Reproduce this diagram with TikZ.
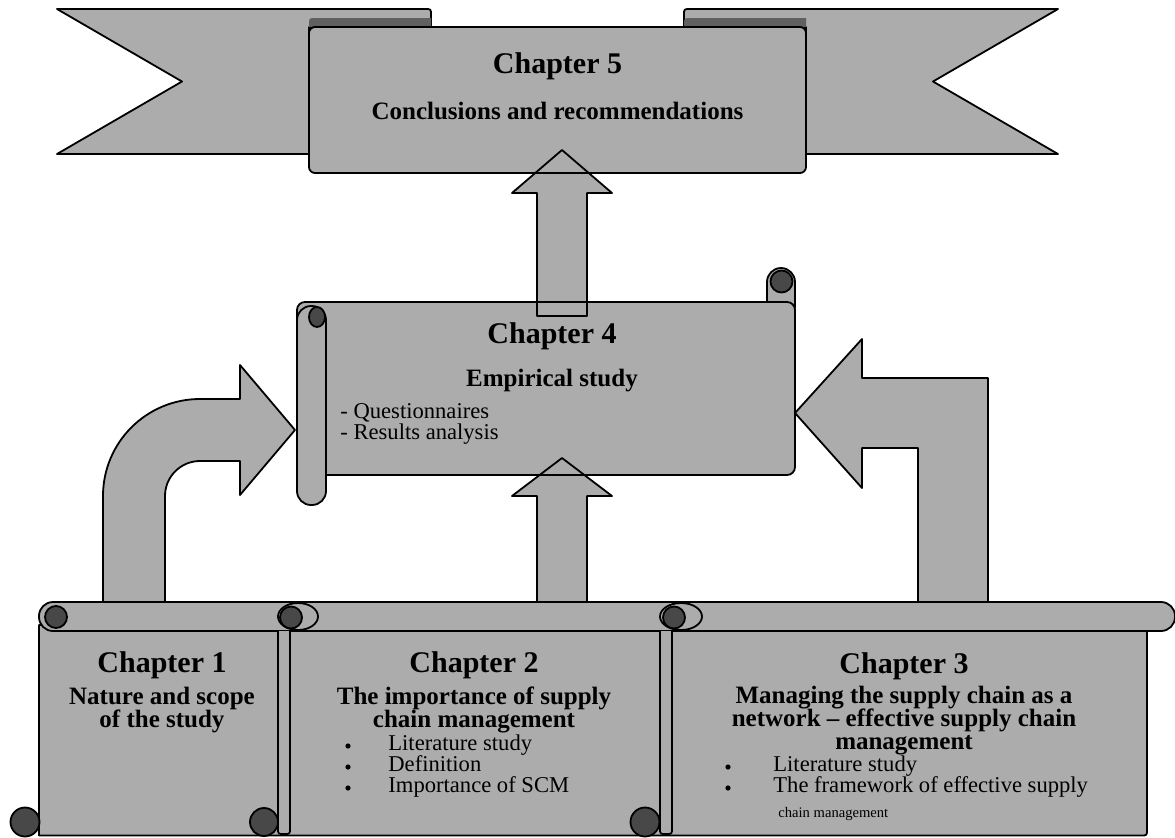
\documentclass[tikz,border=0pt]{standalone}
\usepackage{fontspec}
\setmainfont{Liberation Serif}
\definecolor{paper}{RGB}{172,172,172}
\definecolor{rolldark}{RGB}{72,72,72}
\definecolor{folddark}{RGB}{96,96,96}
\begin{document}
\begin{tikzpicture}[x=0.5pt,y=-0.5pt,
  outline/.style={draw=black,line width=0.9pt,line join=round},
  sheet/.style={outline,fill=paper},
  curl/.style={outline,fill=rolldark},
  chaptitle/.style={anchor=base,inner sep=0pt,font=\fontsize{15}{15}\selectfont\bfseries},
  subtitle/.style={anchor=base,inner sep=0pt,font=\fontsize{12.5}{12.5}\selectfont\bfseries},
  listitem/.style={anchor=base west,inner sep=0pt,font=\fontsize{11.3}{11.3}\selectfont},
  smallitem/.style={anchor=base west,inner sep=0pt,font=\fontsize{7.3}{7.3}\selectfont},
  bulletdot/.style={fill=black,circle,inner sep=0pt,minimum size=2.6pt}
]
\useasboundingbox (0,0) rectangle (1175,837);

% ---------------- Chapter 5: ribbon banner ----------------
% left tail with its fold
\draw[sheet] (57,9) -- (425,9) .. controls (431,9) .. (431,15) -- (431,27)
  -- (309,27) -- (309,154) -- (57,154) -- (182,81.5) -- cycle;
\fill[folddark] (316,18) -- (431,18) -- (431,27) -- (309,27) -- (309,25) .. controls (309,18) .. (316,18);
% right tail with its fold
\draw[sheet] (1058,9) -- (690,9) .. controls (684,9) .. (684,15) -- (684,27)
  -- (806,27) -- (806,154) -- (1058,154) -- (933,81.5) -- cycle;
\fill[folddark] (691,18) -- (806,18) -- (806,27) -- (684,27) -- (684,25) .. controls (684,18) .. (691,18);
% centre panel
\draw[sheet,rounded corners=3pt] (309,27) rectangle (806,173);

% ---------------- Chapter 4: scroll ----------------
\draw[sheet,rounded corners=7pt] (767,268) rectangle (795,320);
\draw[curl] (781.5,281.5) circle[radius=11];
\draw[sheet,rounded corners=4pt] (297,302) rectangle (795,475);
\draw[sheet,rounded corners=7pt] (297,306) rectangle (326,505);
\draw[curl] (317,317) ellipse[x radius=8,y radius=10];

% ---------------- Chapters 1--3: joined scroll ----------------
\draw[sheet] (39,625) -- (1147,625) -- (1147,829) .. controls (1147,835.5) .. (1141,835.5)
  -- (39,835.5) -- cycle;
\draw[sheet,rounded corners=7pt] (39,602) rectangle (1175,631);
% inner rolls between the chapters
\draw[sheet] (278,631) -- (278,828) .. controls (278,834) .. (284,834)
  .. controls (290,834) .. (290,828) -- (290,631);
\draw[sheet] (660,631) -- (660,828) .. controls (660,834) .. (666,834)
  .. controls (672,834) .. (672,828) -- (672,631);
% curls along the top band
\draw[curl] (56,617) circle[radius=11];
\draw[sheet] (298,616.5) ellipse[x radius=20,y radius=13.5];
\draw[curl] (291,617.5) circle[radius=11];
\draw[sheet] (681,616.5) ellipse[x radius=21,y radius=13.5];
\draw[curl] (674,617.5) circle[radius=11];
% curls at the bottom edge
\draw[curl] (25,822) circle[radius=14.5];
\draw[curl] (264,822) circle[radius=14];
\draw[curl] (645,822) circle[radius=14.5];

% ---------------- block arrows ----------------
% Chapter 4 -> Chapter 5
\draw[sheet] (562,150) -- (612,193) -- (587,193) -- (587,316) -- (537,316)
  -- (537,193) -- (512,193) -- cycle;
% Chapter 1 -> Chapter 4 (bent up and right)
\draw[sheet] (103,602) -- (103,496) .. controls (103,442.4) and (146.4,399) .. (200,399)
  -- (240,399) -- (240,365) -- (295,430) -- (240,495) -- (240,461) -- (200,461)
  .. controls (180.7,461) and (165,476.7) .. (165,496) -- (165,602) -- cycle;
% Chapter 2 -> Chapter 4
\draw[sheet] (562,458) -- (612,496) -- (587,496) -- (587,602) -- (537,602)
  -- (537,496) -- (512,496) -- cycle;
% Chapter 3 -> Chapter 4 (bent up and left)
\draw[sheet] (795,413) -- (862,339) -- (862,378) -- (988,378) -- (988,602)
  -- (918,602) -- (918,448) -- (862,448) -- (862,488) -- cycle;
% panel edges seen through the overlapping arrows
\draw[outline] (530,173) -- (594,173);
\draw[outline] (530,302) -- (594,302);
\draw[outline] (512,475) -- (612,475);

% ---------------- texts ----------------
\node[chaptitle] (t5) at (557.5,73) {Chapter 5};
\node[subtitle] (t5a) at (557.5,119.5) {Conclusions and recommendations};

\node[chaptitle] (t4) at (552,343) {Chapter 4};
\node[subtitle] (t4a) at (552,386) {Empirical study};
\node[listitem] (t4b) at (340,418) {- Questionnaires};
\node[listitem] (t4c) at (340,439) {- Results analysis};

\node[chaptitle] (t1) at (162,672) {Chapter 1};
\node[subtitle] (t1a) at (162,704) {Nature and scope};
\node[subtitle] (t1b) at (162,727) {of the study};

\node[chaptitle] (t2) at (474,672) {Chapter 2};
\node[subtitle] (t2a) at (474,704) {The importance of supply};
\node[subtitle] (t2b) at (474,727) {chain management};
\node[bulletdot] (b2a) at (348,746) {};
\node[bulletdot] (b2b) at (348,767) {};
\node[bulletdot] (b2c) at (348,788) {};
\node[listitem] (t2c) at (388,750) {Literature study};
\node[listitem] (t2d) at (388,771) {Definition};
\node[listitem] (t2e) at (388,792) {Importance of SCM};

\node[chaptitle] (t3) at (904,673) {Chapter 3};
\node[subtitle] (t3a) at (904,703) {Managing the supply chain as a};
\node[subtitle] (t3b) at (904,726) {network -- effective supply chain};
\node[subtitle] (t3c) at (904,749) {management};
\node[bulletdot] (b3a) at (728,767) {};
\node[bulletdot] (b3b) at (728,788) {};
\node[listitem] (t3d) at (773,771) {Literature study};
\node[listitem] (t3e) at (773,792) {The framework of effective supply};
\node[smallitem] (t3f) at (778,817) {chain management};
\end{tikzpicture}
\end{document}
